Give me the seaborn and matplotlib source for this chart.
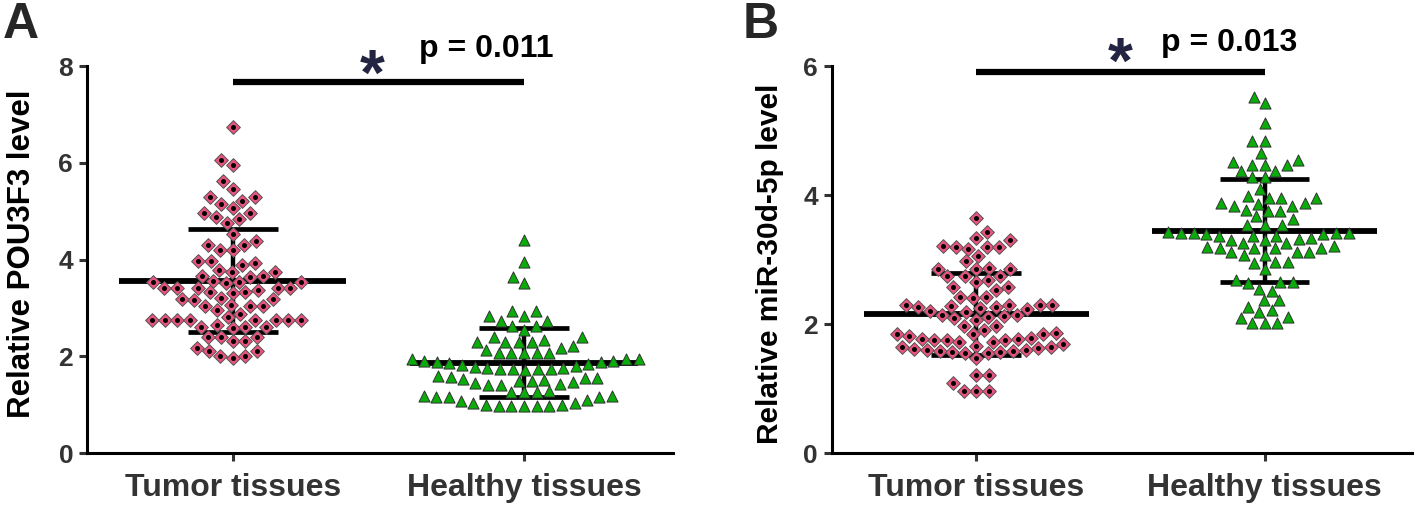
import numpy as np
import pandas as pd
import seaborn as sns
import matplotlib
matplotlib.use('Agg')
import matplotlib.pyplot as plt

# categories
groups = ['Tumor tissues', 'Healthy tissues']

# panel A: relative POU3F3 level
pou3f3_tumor = [6.75, 6.06, 5.96, 5.63, 5.46, 5.29, 5.29, 5.22, 5.15, 5.06, 4.96, 4.96, 4.88, 4.84, 4.75,
                4.53, 4.39, 4.30, 4.30, 4.20, 4.20, 3.98, 3.98, 3.93, 3.88, 3.79, 3.75, 3.75, 3.67, 3.67, 3.64,
                3.54, 3.54, 3.56, 3.54, 3.52, 3.42, 3.42, 3.42, 3.42, 3.42, 3.37, 3.32, 3.32, 3.31,
                3.19, 3.19, 3.20, 3.17, 3.06, 3.04, 3.04, 3.04, 2.96, 2.88, 2.82,
                2.75, 2.75, 2.75, 2.75, 2.75, 2.75, 2.75, 2.75, 2.65, 2.61, 2.59, 2.60, 2.60,
                2.41, 2.41, 2.41, 2.32, 2.32, 2.18, 2.11, 2.11, 2.01, 2.00, 1.96]
pou3f3_healthy = [4.41, 3.94, 3.64, 3.52, 2.94, 2.94, 2.84, 2.84, 2.74, 2.74, 2.62, 2.62, 2.55,
                  2.40, 2.34, 2.29, 2.29, 2.29, 2.29, 2.40, 2.13, 2.18, 2.22,
                  2.07, 2.07, 2.06, 2.06, 2.07,
                  1.94, 1.94, 1.90, 1.88, 1.85, 1.81, 1.76, 1.79, 1.83, 1.86, 1.88, 1.90, 1.94,
                  1.74, 1.74, 1.72, 1.74, 1.74, 1.76,
                  1.58, 1.55, 1.52, 1.50, 1.47, 1.41, 1.40, 1.42, 1.45, 1.50, 1.53, 1.56, 1.59,
                  1.27, 1.27, 1.29, 1.19, 1.16, 1.10, 1.16, 1.17, 1.19, 1.27,
                  1.03, 1.00, 0.98, 0.98, 0.98, 0.98, 0.98, 1.00, 1.03, 1.08]

# panel B: relative miR-30d-5p level
mir30d_tumor = [3.65, 3.43, 3.30, 3.34, 3.19, 3.17, 3.19, 3.20, 3.21, 3.05, 2.98, 2.86, 2.86, 2.86, 2.87,
                2.74, 2.74, 2.74, 2.66, 2.68, 2.57, 2.57, 2.53, 2.42, 2.41, 2.42,
                2.30, 2.29, 2.27, 2.26, 2.21, 2.14, 2.12, 2.11, 2.07, 2.10, 2.14, 2.18, 2.24, 2.25, 2.28, 2.29, 2.30,
                1.97, 1.97,
                1.85, 1.84, 1.81, 1.76, 1.79, 1.84, 1.86, 1.91,
                1.77, 1.76, 1.72, 1.66, 1.64, 1.62, 1.60, 1.59, 1.56, 1.55, 1.47, 1.55, 1.57, 1.59, 1.60,
                1.63, 1.65, 1.69, 1.72, 1.76, 1.77,
                1.21, 1.21, 1.08, 0.97, 0.97, 0.97]
mir30d_healthy = [5.52, 5.42, 5.12, 4.84, 4.84, 4.65,
                  4.52, 4.47, 4.38, 4.28, 4.28, 4.38, 4.47, 4.47, 4.54,
                  3.99, 3.95, 4.09, 3.95, 3.95,
                  3.87, 3.86, 3.83, 3.83, 3.87, 3.77, 3.75, 3.76, 3.67, 3.63,
                  3.53, 3.53, 3.54,
                  3.41, 3.41, 3.39, 3.37, 3.37, 3.32, 3.30, 3.26, 3.26, 3.30, 3.34, 3.37, 3.39, 3.41, 3.41, 3.43,
                  3.20, 3.18, 3.18, 3.11, 3.07, 3.07, 3.11, 3.11, 3.18, 3.18, 3.21,
                  2.95, 2.97, 2.96, 2.86,
                  2.66, 2.66, 2.69, 2.64, 2.55, 2.52,
                  2.37, 2.37, 2.22, 2.27, 2.11, 2.18, 2.01, 2.01, 2.01, 2.09]

y_labels = ['Relative POU3F3 level', 'Relative miR-30d-5p level']
y_ticks_a = [0, 2, 4, 6, 8]
y_ticks_b = [0, 2, 4, 6]
p_labels = ['p = 0.011', 'p = 0.013']
panel_letters = ['A', 'B']

PINK = '#e8547f'
GREEN = '#0aac0a'

sns.set_style('ticks')
plt.rcParams['font.family'] = ['Liberation Sans', 'DejaVu Sans']
plt.rcParams['font.weight'] = 'bold'

fig = plt.figure(figsize=(14.18, 5.08), dpi=100)
ax_a = fig.add_axes([0.0614, 0.108, 0.413, 0.762])
ax_b = fig.add_axes([0.5867, 0.108, 0.409, 0.762])


def draw_column(ax, values, idx, marker, face):
    df = pd.DataFrame({'group': groups[idx], 'value': values})
    sns.swarmplot(data=df, x='group', y='value', order=groups, ax=ax, marker=marker,
                  size=8, color=face, edgecolor='#333333', linewidth=0.7, zorder=3,
                  warn_thresh=1)
    m = np.mean(values)
    sd = np.std(values, ddof=1)
    ax.hlines(m, idx - 0.39, idx + 0.39, color='black', lw=4.2, zorder=2)
    ax.vlines(idx, m - sd, m + sd, color='black', lw=3.2, zorder=2)
    ax.hlines([m - sd, m + sd], idx - 0.155, idx + 0.155, color='black', lw=3.4, zorder=2)


panels = [(ax_a, pou3f3_tumor, pou3f3_healthy, y_ticks_a),
          (ax_b, mir30d_tumor, mir30d_healthy, y_ticks_b)]

for i, (ax, tumor, healthy, yt) in enumerate(panels):
    draw_column(ax, tumor, 0, 'D', PINK)
    draw_column(ax, healthy, 1, '^', GREEN)

    ax.set_xlim(-0.5, 1.51)
    ax.set_ylim(0, yt[-1])
    ax.set_yticks(yt)
    ax.set_xlabel('')
    ax.set_ylabel(y_labels[i], fontsize=22.5 if i == 0 else 21.5, fontweight='bold', color='black')
    ax.yaxis.set_label_coords(-0.085 if i == 0 else -0.082, 0.515 if i == 0 else 0.49)
    ax.tick_params(axis='y', labelsize=19, colors='#333333', width=2.2, length=6, pad=4)
    ax.tick_params(axis='x', labelsize=23, colors='#333333', width=2.2, length=6, pad=8)
    for lab in ax.get_xticklabels() + ax.get_yticklabels():
        lab.set_fontweight('bold')
    sns.despine(ax=ax)
    for side in ['left', 'bottom']:
        ax.spines[side].set_linewidth(2.2)
        ax.spines[side].set_color('black')

    top = yt[-1]
    # significance bar
    bar_y = 7.67 if i == 0 else 5.91
    ax.plot([0, 1], [bar_y, bar_y], color='black', lw=4.5, solid_capstyle='butt', clip_on=False)
    ax.text(0.48 if i == 0 else 0.5, top - (0.24 if i == 0 else 0.0),
            '*', fontsize=46, fontweight='bold', color='#232342', ha='center', va='center', clip_on=False)
    ax.text(0.64, top + 0.36, p_labels[i], fontsize=23, fontweight='bold',
            color='black', ha='left', va='center', clip_on=False)

fig.text(0.002, 0.997, 'A', fontsize=36, fontweight='bold', ha='left', va='top')
fig.text(0.524, 0.997, 'B', fontsize=36, fontweight='bold', ha='left', va='top')

# fix swarm positions, then redraw the diamonds with the black centre dot
fig.canvas.draw()
for ax in [ax_a, ax_b]:
    coll = ax.collections[0]
    offs = np.array(coll.get_offsets())
    coll.set_visible(False)
    ax.scatter(offs[:, 0], offs[:, 1], marker='D', s=7.0 ** 2, c=PINK, edgecolors='#555555',
               linewidths=0.7, zorder=3)
    ax.scatter(offs[:, 0], offs[:, 1], marker='o', s=3.6 ** 2, c='black', linewidths=0, zorder=4)

fig.savefig('out.png', dpi=100)
